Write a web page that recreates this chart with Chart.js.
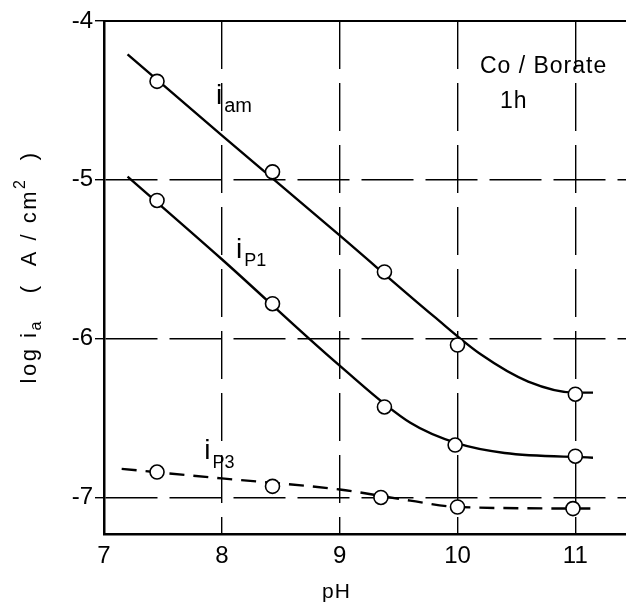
<!DOCTYPE html>
<html>
<head>
<meta charset="utf-8">
<script src="https://cdn.jsdelivr.net/npm/chart.js@4/dist/chart.umd.min.js"></script>
<style>
  html, body { margin: 0; padding: 0; background: #fff; overflow: hidden; }
</style>
</head>
<body>
<canvas id="chart" width="626" height="604"></canvas>
<script>
// ── Daten ──
const xTicks = [7, 8, 9, 10, 11];
const yTicks = [-4, -5, -6, -7];

// Messpunkte (Kreise)
const phAm  = [7.45, 8.43, 9.38, 10.0, 11.0];
const iAm   = [-4.38, -4.95, -5.58, -6.04, -6.35];
const phP1  = [7.45, 8.43, 9.38, 9.98, 11.0];
const iP1   = [-5.13, -5.78, -6.43, -6.67, -6.74];
const phP3  = [7.45, 8.43, 9.35, 10.0, 10.98];
const iP3   = [-6.84, -6.93, -7.00, -7.06, -7.07];

// Ausgleichskurven
const fitAmX = [7.2, 8.0, 9.0, 9.8, 10.2, 10.6, 11.0, 11.15];
const fitAmY = [-4.21, -4.72, -5.35, -5.86, -6.1, -6.27, -6.34, -6.34];
const fitP1X = [7.2, 8.0, 9.0, 9.6, 10.0, 10.4, 11.15];
const fitP1Y = [-4.98, -5.5, -6.17, -6.53, -6.66, -6.72, -6.75];
const fitP3X = [7.15, 8.0, 9.0, 9.6, 10.0, 11.15];
const fitP3Y = [-6.82, -6.88, -6.95, -7.02, -7.06, -7.07];

const FONT = '"Liberation Sans", "DejaVu Sans", sans-serif';
const pts = (xs, ys) => xs.map((x, i) => ({ x, y: ys[i] }));

const kurve = (xs, ys, dash) => ({
  type: 'line',
  data: pts(xs, ys),
  borderColor: '#000',
  borderWidth: 2.4,
  borderDash: dash || [],
  pointRadius: 0,
  cubicInterpolationMode: 'monotone',
  order: 2
});
const kreise = (xs, ys) => ({
  type: 'scatter',
  data: pts(xs, ys),
  pointRadius: 7,
  pointBackgroundColor: '#fff',
  pointBorderColor: '#000',
  pointBorderWidth: 1.6,
  order: 1
});

// ── Beschriftungen im Diagramm ──
function textMitIndex(ctx, x, y, haupt, index, sHaupt, sIndex) {
  ctx.font = `${sHaupt}px ${FONT}`;
  ctx.fillText(haupt, x, y);
  const w = ctx.measureText(haupt).width;
  ctx.font = `${sIndex}px ${FONT}`;
  ctx.fillText(index, x + w + 2, y + sHaupt * 0.3);
}

const beschriftung = {
  id: 'beschriftung',
  afterDatasetsDraw(chart) {
    const { ctx, scales: { x, y } } = chart;
    ctx.save();
    ctx.fillStyle = '#000';
    ctx.textBaseline = 'alphabetic';
    ctx.textAlign = 'left';

    textMitIndex(ctx, x.getPixelForValue(7.95), y.getPixelForValue(-4.52), 'i', 'am', 28, 20);
    textMitIndex(ctx, x.getPixelForValue(8.12), y.getPixelForValue(-5.49), 'i', 'P1', 28, 18);
    textMitIndex(ctx, x.getPixelForValue(7.85), y.getPixelForValue(-6.76), 'i', 'P3', 28, 18);

    ctx.letterSpacing = '1px';
    ctx.font = `23px ${FONT}`;
    ctx.fillText('Co / Borate', x.getPixelForValue(10.19), y.getPixelForValue(-4.33));
    ctx.fillText('1h', x.getPixelForValue(10.36), y.getPixelForValue(-4.55));

    // x-Achsentitel
    ctx.font = `21px ${FONT}`;
    ctx.fillText('pH', 322, 598);

    // y-Achsentitel (gedreht)
    ctx.translate(36, 266);
    ctx.rotate(-Math.PI / 2);
    ctx.letterSpacing = '2.5px';
    const teil1 = 'log i';
    const teil2 = '   (  A / cm';
    const teil3 = '  )';
    ctx.font = `22px ${FONT}`;
    const w1 = ctx.measureText(teil1).width;
    const w2 = ctx.measureText(teil2).width;
    const w3 = ctx.measureText(teil3).width;
    ctx.font = `16px ${FONT}`;
    const wa = ctx.measureText('a').width;
    const wq = ctx.measureText('2').width;
    let cx = -(w1 + wa + w2 + wq + w3 + 2) / 2;
    ctx.font = `22px ${FONT}`;
    ctx.fillText(teil1, cx, 0); cx += w1;
    ctx.font = `16px ${FONT}`;
    ctx.fillText('a', cx, 5); cx += wa;
    ctx.font = `22px ${FONT}`;
    ctx.fillText(teil2, cx, 0); cx += w2;
    ctx.font = `16px ${FONT}`;
    ctx.fillText('2', cx, -11); cx += wq;
    ctx.font = `22px ${FONT}`;
    ctx.fillText(teil3, cx, 0);
    ctx.restore();
  }
};

const ohnePadding = s => { s.paddingRight = 0; s.paddingLeft = 0; };

new Chart(document.getElementById('chart'), {
  data: {
    datasets: [
      kurve(fitAmX, fitAmY),
      kurve(fitP1X, fitP1Y),
      kurve(fitP3X, fitP3Y, [15, 9]),
      kreise(phAm, iAm),
      kreise(phP1, iP1),
      kreise(phP3, iP3)
    ]
  },
  options: {
    responsive: false,
    animation: false,
    layout: { autoPadding: false, padding: { top: 21, right: 0, left: 0, bottom: 0 } },
    plugins: { legend: { display: false }, tooltip: { enabled: false } },
    scales: {
      x: {
        type: 'linear',
        min: 7,
        max: 11.43,
        afterBuildTicks: s => { s.ticks = xTicks.map(v => ({ value: v })); },
        afterFit: s => { s.height = 70; ohnePadding(s); },
        border: { color: '#000', width: 2.5, dash: [48, 14] },
        grid: {
          color: c => c.tick && c.tick.value === 7 ? 'rgba(0,0,0,0)' : '#000',
          lineWidth: 1.4,
          drawTicks: false
        },
        ticks: { color: '#000', font: { family: FONT, size: 24 }, padding: 8 }
      },
      x2: {
        type: 'linear',
        position: 'top',
        min: 7,
        max: 11.43,
        border: { color: '#000', width: 2 },
        grid: { display: false, drawTicks: false },
        ticks: { display: false },
        afterFit: s => { s.height = 0; ohnePadding(s); }
      },
      y: {
        type: 'linear',
        min: -7.23,
        max: -4,
        afterBuildTicks: s => { s.ticks = yTicks.map(v => ({ value: v })); },
        afterFit: s => { s.width = 104; },
        border: { color: '#000', width: 2.5, dash: [52, 12] },
        grid: {
          color: c => c.tick && c.tick.value === -4 ? 'rgba(0,0,0,0)' : '#000',
          tickColor: '#000',
          tickLength: 9,
          tickBorderDash: [],
          lineWidth: 1.4
        },
        ticks: { color: '#000', font: { family: FONT, size: 24 }, padding: 2 }
      }
    }
  },
  plugins: [beschriftung]
});
</script>
</body>
</html>
